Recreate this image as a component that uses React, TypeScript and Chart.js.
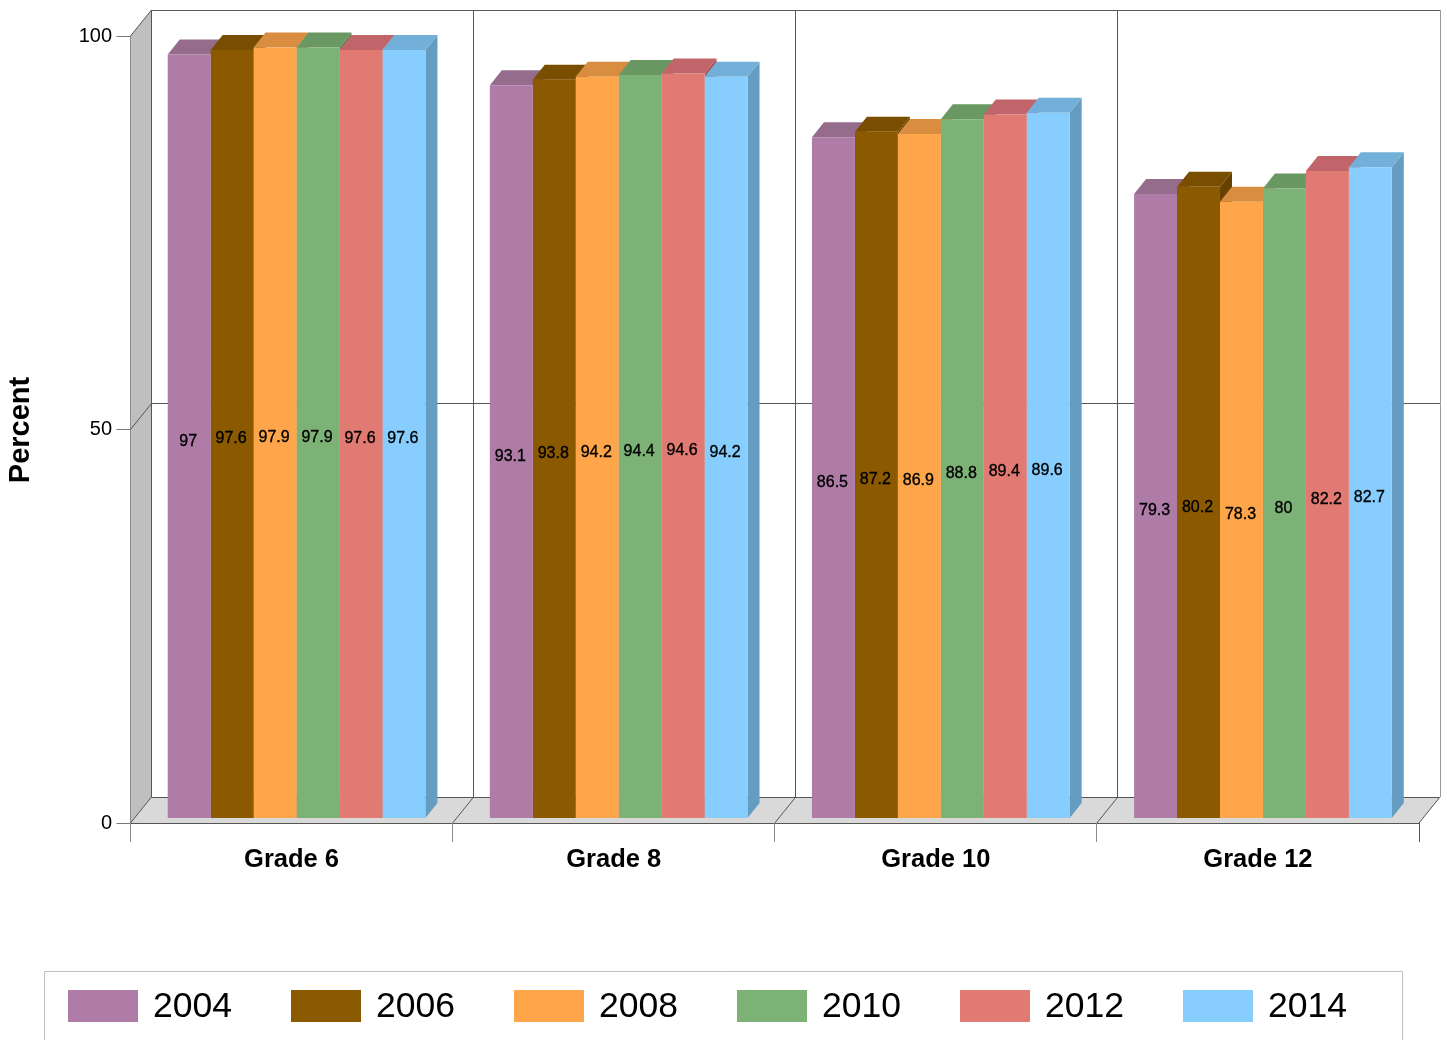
import React, { useEffect, useRef } from "react";
import { Chart, registerables } from "chart.js";

Chart.register(...registerables);

const categories = ["Grade 6", "Grade 8", "Grade 10", "Grade 12"];
const years = ["2004", "2006", "2008", "2010", "2012", "2014"];
const s2004 = [97, 93.1, 86.5, 79.3];
const s2006 = [97.6, 93.8, 87.2, 80.2];
const s2008 = [97.9, 94.2, 86.9, 78.3];
const s2010 = [97.9, 94.4, 88.8, 80];
const s2012 = [97.6, 94.6, 89.4, 82.2];
const s2014 = [97.6, 94.2, 89.6, 82.7];
const seriesValues = [s2004, s2006, s2008, s2010, s2012, s2014];
const frontColors = ["#AE7CA7", "#8B5A00", "#FFA54A", "#7DB276", "#E07A73", "#87CEFF"];
const topColors = ["#966C8D", "#7A4E00", "#D98D40", "#6A9862", "#C1656A", "#72AFD9"];
const sideColors = ["#7F5C79", "#664200", "#B97836", "#5B8354", "#A4565A", "#659CC2"];

const FONT = '"Liberation Sans", Arial, sans-serif';
// front plane of the box relative to the bars' plane
const FDX = -5;
const FDY = 5;
// box depth
const BDX = 21;
const BDY = -26;
// bar depth
const DX = 12;
const DY = -15;

function poly(ctx: CanvasRenderingContext2D, pts: number[][], fill?: string, stroke?: string, lw = 1) {
  ctx.beginPath();
  pts.forEach((p, i) => (i ? ctx.lineTo(p[0], p[1]) : ctx.moveTo(p[0], p[1])));
  ctx.closePath();
  if (fill) {
    ctx.fillStyle = fill;
    ctx.fill();
  }
  if (stroke) {
    ctx.strokeStyle = stroke;
    ctx.lineWidth = lw;
    ctx.stroke();
  }
}

const snap = (v: number) => Math.floor(v) + 0.5;

function line(ctx: CanvasRenderingContext2D, x0: number, y0: number, x1: number, y1: number, color: string, lw = 1) {
  ctx.beginPath();
  if (x0 === x1) {
    x0 = x1 = snap(x0);
  }
  if (y0 === y1) {
    y0 = y1 = snap(y0);
  }
  ctx.moveTo(x0, y0);
  ctx.lineTo(x1, y1);
  ctx.strokeStyle = color;
  ctx.lineWidth = lw;
  ctx.stroke();
}

const boxPlugin = {
  id: "box3d",
  beforeDatasetsDraw(chart: any) {
    const ctx: CanvasRenderingContext2D = chart.ctx;
    const xs = chart.scales.x;
    const ys = chart.scales.y;
    const left = xs.left + FDX;
    const right = xs.right + FDX;
    const y0 = ys.getPixelForValue(0) + FDY;
    const y100 = ys.getPixelForValue(100) + FDY;
    const dark = "#555555";
    ctx.save();
    // side wall and floor
    poly(ctx, [[left, y0], [left + BDX, y0 + BDY], [left + BDX, y100 + BDY], [left, y100]], "#BFBFBF");
    poly(ctx, [[left, y0], [right, y0], [right + BDX, y0 + BDY], [left + BDX, y0 + BDY]], "#D9D9D9");
    // left edge of wall
    line(ctx, left, y100, left, y0, "#8C8C8C", 1);
    // ticks and wall grid
    ys.ticks.forEach((t: any) => {
      const py = ys.getPixelForValue(t.value) + FDY;
      line(ctx, left - 14, py, left, py, "#777777");
      line(ctx, left, py, left + BDX, py + BDY, dark);
      if (t.value > 0) line(ctx, left + BDX, py + BDY, right + BDX, py + BDY, dark);
    });
    line(ctx, left, y0, right, y0, dark);
    line(ctx, left + BDX, y0 + BDY, right + BDX - 1, y0 + BDY, dark);
    // category dividers
    const step = (right - left) / categories.length;
    for (let i = 0; i <= categories.length; i++) {
      const px = left + i * step;
      line(ctx, px, y0, px, y0 + 19, i === categories.length ? dark : "#8C8C8C");
      if (i > 0) {
        line(ctx, px, y0, px + BDX, y0 + BDY, dark);
        line(ctx, px + BDX, y0 + BDY, px + BDX, y100 + BDY, i === categories.length ? "#999999" : dark);
      }
    }
    line(ctx, left + BDX, y100 + BDY, left + BDX, y0 + BDY, dark);
    // bar tops and sides, left to right
    chart.data.labels.forEach((_: string, c: number) => {
      chart.data.datasets.forEach((_d: any, d: number) => {
        const el = chart.getDatasetMeta(d).data[c];
        const x0 = el.x - el.width / 2;
        const x1 = el.x + el.width / 2;
        poly(ctx, [[x1, el.y], [x1 + DX, el.y + DY], [x1 + DX, el.base + DY], [x1, el.base]], sideColors[d]);
        poly(ctx, [[x0, el.y], [x1, el.y], [x1 + DX, el.y + DY], [x0 + DX, el.y + DY]], topColors[d]);
      });
    });
    ctx.restore();
  },
  afterDatasetsDraw(chart: any) {
    const ctx: CanvasRenderingContext2D = chart.ctx;
    ctx.save();
    // value labels
    ctx.font = `16px ${FONT}`;
    ctx.fillStyle = "#000000";
    ctx.strokeStyle = "#000000";
    ctx.lineWidth = 0.35;
    ctx.textAlign = "center";
    ctx.textBaseline = "middle";
    chart.data.datasets.forEach((ds: any, d: number) => {
      chart.getDatasetMeta(d).data.forEach((el: any, c: number) => {
        const tx = el.x - 1;
        const ty = (el.y + el.base) / 2 + 5;
        ctx.fillText(String(ds.data[c]), tx, ty);
        ctx.strokeText(String(ds.data[c]), tx, ty);
      });
    });
    // y axis title
    ctx.save();
    ctx.translate(21, 430);
    ctx.rotate(-Math.PI / 2);
    ctx.font = `bold 29px ${FONT}`;
    ctx.fillText("Percent", 0, 0);
    ctx.restore();
    // legend
    poly(ctx, [[44.5, 1045], [44.5, 971.5], [1402.5, 971.5], [1402.5, 1045]], undefined, "#C0C0C0", 1);
    ctx.textAlign = "left";
    ctx.font = `35.5px ${FONT}`;
    chart.data.datasets.forEach((ds: any, d: number) => {
      const lx = 68 + d * 223;
      ctx.fillStyle = frontColors[d];
      ctx.fillRect(lx, 990, 70, 32);
      ctx.fillStyle = "#000000";
      ctx.fillText(ds.label, lx + 85, 1007);
    });
    ctx.restore();
  },
};

export default function App() {
  const ref = useRef<HTMLCanvasElement>(null);
  useEffect(() => {
    if (!ref.current) return;
    const chart = new Chart(ref.current, {
      type: "bar",
      data: {
        labels: categories,
        datasets: years.map((y, i) => ({
          label: y,
          data: seriesValues[i],
          backgroundColor: frontColors[i],
          borderWidth: 0,
          categoryPercentage: 0.8,
          barPercentage: 1,
        })),
      },
      plugins: [boxPlugin],
      options: {
        responsive: false,
        animation: false,
        layout: { autoPadding: false, padding: { left: 0, top: 31, right: 23, bottom: 122 } },
        plugins: { legend: { display: false }, title: { display: false }, tooltip: { enabled: false } },
        scales: {
          x: {
            grid: { display: false },
            border: { display: false },
            afterFit: (s: any) => {
              s.height = 100;
            },
            ticks: {
              padding: 19,
              labelOffset: FDX,
              maxRotation: 0,
              autoSkip: false,
              color: "#000000",
              font: { family: FONT, size: 25.5, weight: "bold" },
            },
          },
          y: {
            min: 0,
            max: 100,
            grid: { display: false },
            border: { display: false },
            afterFit: (s: any) => {
              s.width = 135.5;
            },
            ticks: {
              stepSize: 50,
              padding: 15.5,
              labelOffset: 5,
              color: "#000000",
              font: { family: FONT, size: 20 },
            },
          },
        },
      },
    } as any);
    return () => chart.destroy();
  }, []);
  return (
    <canvas
      ref={ref}
      width={1447}
      height={1040}
      style={{ position: "absolute", left: 0, top: 0, display: "block", width: 1447, height: 1040 }}
    />
  );
}
